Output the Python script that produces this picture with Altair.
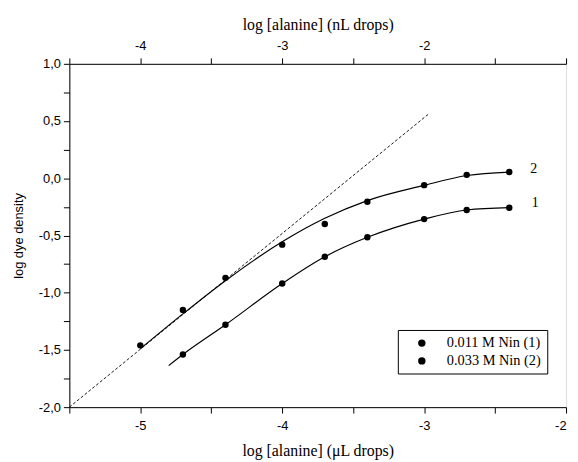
import altair as alt
import pandas as pd

# measured data points (bottom axis: log [alanine] (uL drops))
x_pts = [-5.0, -4.7, -4.4, -4.0, -3.7, -3.4, -3.0, -2.7, -2.4]
y_ser2 = [-1.46, -1.15, -0.87, -0.58, -0.40, -0.205, -0.06, 0.03, 0.055]
x_ser1 = [-4.7, -4.4, -4.0, -3.7, -3.4, -3.0, -2.7, -2.4]
y_ser1 = [-1.54, -1.28, -0.92, -0.686, -0.516, -0.357, -0.277, -0.257]

# fitted curves
fit2_x = [-5.0, -4.7, -4.4, -4.0, -3.7, -3.4, -3.0, -2.7, -2.4]
fit2_y = [-1.49, -1.185, -0.895, -0.555, -0.35, -0.195, -0.062, 0.024, 0.054]
fit1_x = [-4.8, -4.7, -4.4, -4.0, -3.7, -3.4, -3.0, -2.7, -2.4]
fit1_y = [-1.637, -1.54, -1.28, -0.92, -0.686, -0.516, -0.357, -0.277, -0.257]

# dashed reference line
dash_x = [-5.5, -2.97]
dash_y = [-2.0, 0.56]

# curve labels
lab_txt = ["2", "1"]
lab_x = [-2.228, -2.218]
lab_y = [0.08, -0.22]

series_names = ["0.011 M Nin (1)", "0.033 M Nin (2)"]

x_bottom_vals = [-5.5, -5.0, -4.5, -4.0, -3.5, -3.0, -2.5, -2.0]
x_top_vals = [-4.5, -4.0, -3.5, -3.0, -2.5, -2.0, -1.5, -1.0]
y_vals = [-2.0, -1.75, -1.5, -1.25, -1.0, -0.75, -0.5, -0.25, 0.0, 0.25, 0.5, 0.75, 1.0]

pts = pd.DataFrame(
    {"x": x_ser1 + x_pts, "y": y_ser1 + y_ser2,
     "series": [series_names[0]] * len(x_ser1) + [series_names[1]] * len(x_pts)}
)
fits = pd.DataFrame(
    {"x": fit1_x + fit2_x, "y": fit1_y + fit2_y,
     "curve": ["1"] * len(fit1_x) + ["2"] * len(fit2_x)}
)
dash = pd.DataFrame({"x": dash_x, "y": dash_y})
labs = pd.DataFrame({"t": lab_txt, "x": lab_x, "y": lab_y})
top = pd.DataFrame({"x": [-4.0, -3.0, -2.0]})

SANS = "Liberation Sans"
SERIF = "Liberation Serif"

xscale = alt.Scale(domain=[-5.5, -2.0], nice=False, zero=False)
yscale = alt.Scale(domain=[-2.0, 1.0], nice=False, zero=False)

xaxis = alt.Axis(
    orient="bottom",
    values=x_bottom_vals,
    labelExpr="(datum.value == -5.5 || datum.value % 1 != 0) ? '' : '' + datum.value",
    title="log [alanine] (\u03bcL drops)",
    titleFont=SERIF, titleFontSize=16, titleFontWeight="normal", titlePadding=10,
    labelFont=SANS, labelFontSize=13, labelPadding=7,
    tickSize=6, grid=False, domainColor="black", tickColor="black", labelColor="black",
)
yaxis = alt.Axis(
    values=y_vals,
    labelExpr="(abs(datum.value * 2) % 1 != 0) ? '' : replace(replace(format(datum.value, '.1f'), '.', ','), '\u2212', '-')",
    title="log dye density",
    titleFont=SANS, titleFontSize=13, titleFontWeight="normal", titlePadding=13,
    labelFont=SANS, labelFontSize=13, labelPadding=3,
    tickSize=6, grid=False, domainColor="black", tickColor="black", labelColor="black",
)

X = alt.X("x:Q", scale=xscale, axis=xaxis)
Y = alt.Y("y:Q", scale=yscale, axis=yaxis)

dash_layer = alt.Chart(dash).mark_line(
    color="black", strokeWidth=0.9, strokeDash=[3, 2]
).encode(x=X, y=Y)

fit_layer = alt.Chart(fits).mark_line(
    color="black", strokeWidth=1.2, interpolate="monotone"
).encode(x=X, y=Y, detail="curve:N")

pt_layer = alt.Chart(pts).mark_point(filled=True, size=42, opacity=1, shape="circle").encode(
    x=X, y=Y,
    color=alt.Color(
        "series:N",
        scale=alt.Scale(domain=series_names, range=["black", "black"]),
        legend=alt.Legend(
            title=None, orient="none", legendX=332, legendY=269,
            strokeColor="black", fillColor="white", padding=6,
            symbolType="circle", symbolSize=36, symbolFillColor="black",
            symbolStrokeColor="black", symbolOffset=11,
            labelFont=SERIF, labelFontSize=14.5, labelOffset=18, labelColor="black",
            rowPadding=3,
        ),
    ),
)

lab_layer = alt.Chart(labs).mark_text(
    font=SERIF, fontSize=14, color="black", align="center", baseline="middle"
).encode(x=X, y=Y, text="t:N")

main = alt.layer(dash_layer, fit_layer, pt_layer, lab_layer)

top_layer = alt.Chart(top).mark_point(opacity=0).encode(
    x=alt.X(
        "x:Q",
        scale=alt.Scale(domain=[-4.5, -1.0], nice=False, zero=False),
        axis=alt.Axis(
            orient="top", values=x_top_vals,
            labelExpr="(datum.value == -4.5 || datum.value == -1 || datum.value % 1 != 0) ? '' : '' + datum.value",
            title="log [alanine] (nL drops)",
            titleFont=SERIF, titleFontSize=16, titleFontWeight="normal", titlePadding=8,
            labelFont=SANS, labelFontSize=13, labelPadding=5,
            tickSize=6, grid=False, domainColor="black", tickColor="black", labelColor="black",
        ),
    ),
    y=alt.value(0),
)

chart = (
    alt.layer(main, top_layer)
    .resolve_scale(x="independent")
    .properties(
        width=502, height=347,
        autosize=alt.AutoSizeParams(type="none"),
        padding={"left": 62, "top": 54, "right": 4, "bottom": 52},
    )
    .configure_view(stroke="black", strokeWidth=1)
    .configure(background="white")
)

chart.save("out.html", embed_options={"renderer": "svg", "actions": False})
